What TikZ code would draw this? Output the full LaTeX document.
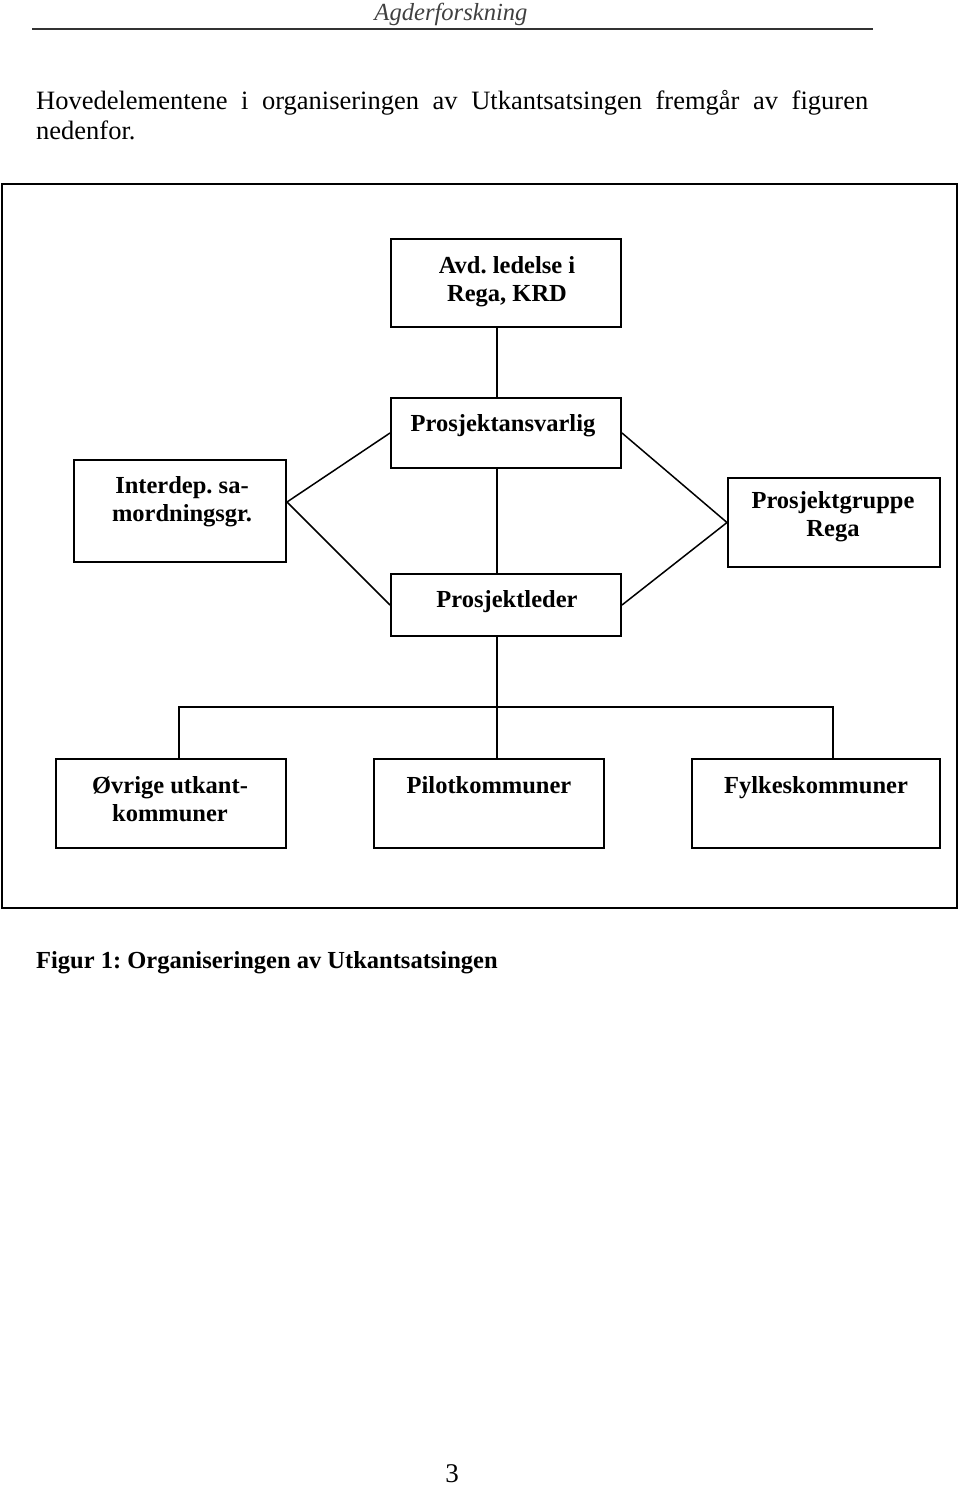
\documentclass[tikz,border=0pt]{standalone}
\usepackage{fontspec}
\setmainfont{Liberation Serif}
\usetikzlibrary{calc}
\frenchspacing
\begin{document}
\begin{tikzpicture}[x=1pt,y=-1pt,
  box/.style={draw, line width=2pt, inner sep=0pt},
  lbl/.style={font=\fontsize{24.5}{28}\selectfont\bfseries, align=center, anchor=north, inner sep=0pt},
  conn/.style={line width=1.5pt},
  bodytext/.style={anchor=base west, inner sep=0pt, font=\fontsize{26.5}{31}\selectfont}]
\useasboundingbox (0,0) rectangle (960,1487);
% header
\node[anchor=base, inner sep=0pt, font=\fontsize{24.6}{28}\selectfont\itshape, text=black!75] (hdr) at (451,21) {Agderforskning};
\coordinate (rl) at (32,29);
\coordinate (rr) at (873,29);
\draw[line width=2pt, black!80] (rl) -- (rr);
% body
\node[bodytext] (l1) at (36,110) {\makebox[832pt][s]{Hovedelementene i organiseringen av Utkantsatsingen fremgår av figuren}};
\node[bodytext] (l2) at (36,140) {nedenfor.};
% frame
\node[draw, line width=2.5pt, minimum width=955pt, minimum height=724pt, inner sep=0pt] (frame) at (479.5,546) {};
% boxes
\node[box, minimum width=230pt, minimum height=88pt] (avd) at (506,283) {};
\node[box, minimum width=230pt, minimum height=70pt] (pa) at (506,433) {};
\node[box, minimum width=212pt, minimum height=102pt] (inter) at (180,511) {};
\node[box, minimum width=212pt, minimum height=89pt] (pg) at (834,522.5) {};
\node[box, minimum width=230pt, minimum height=62pt] (pl) at (506,605) {};
\node[box, minimum width=230pt, minimum height=89pt] (ovr) at (171,803.5) {};
\node[box, minimum width=230pt, minimum height=89pt] (pilot) at (489,803.5) {};
\node[box, minimum width=248pt, minimum height=89pt] (fyl) at (816,803.5) {};
% labels
\node[lbl] (avdt) at (507,254) {\rule{0pt}{19pt}Avd. ledelse i\\Rega, KRD};
\node[lbl] (pat) at (503,412) {\rule{0pt}{19pt}Prosjektansvarlig};
\node[lbl] (intert) at (182,474) {\rule{0pt}{19pt}Interdep. sa-\\mordningsgr.};
\node[lbl] (pgt) at (833,489) {\rule{0pt}{19pt}Prosjektgruppe\\Rega};
\node[lbl] (plt) at (507,588) {\rule{0pt}{19pt}Prosjektleder};
\node[lbl] (ovrt) at (170,774) {\rule{0pt}{19pt}Øvrige utkant-\\kommuner};
\node[lbl] (pilott) at (489,774) {\rule{0pt}{19pt}Pilotkommuner};
\node[lbl] (fylt) at (816,774) {\rule{0pt}{19pt}Fylkeskommuner};
% connectors
\coordinate (bus) at (497,707);
\coordinate (busL) at (179,707);
\coordinate (busR) at (833,707);
\draw[conn] (avd.south -| bus) -- (pa.north -| bus);
\draw[conn] (pa.south -| bus) -- (pl.north -| bus);
\draw[conn] (pl.south -| bus) -- (pilot.north -| bus);
\draw[conn] (ovr.north -| busL) -- (busL) -- (busR) -- (fyl.north -| busR);
\draw[conn] (pa.west) -- ([yshift=9pt]inter.east) -- (pl.west);
\draw[conn] (pa.east) -- (pg.west) -- (pl.east);
% caption and page number
\node[anchor=base west, inner sep=0pt, font=\fontsize{24.5}{28}\selectfont\bfseries] (cap) at (36,968) {Figur 1: Organiseringen av Utkantsatsingen};
\node[anchor=base, inner sep=0pt, font=\fontsize{27}{30}\selectfont] (pg3) at (452,1482) {3};
\end{tikzpicture}
\end{document}
